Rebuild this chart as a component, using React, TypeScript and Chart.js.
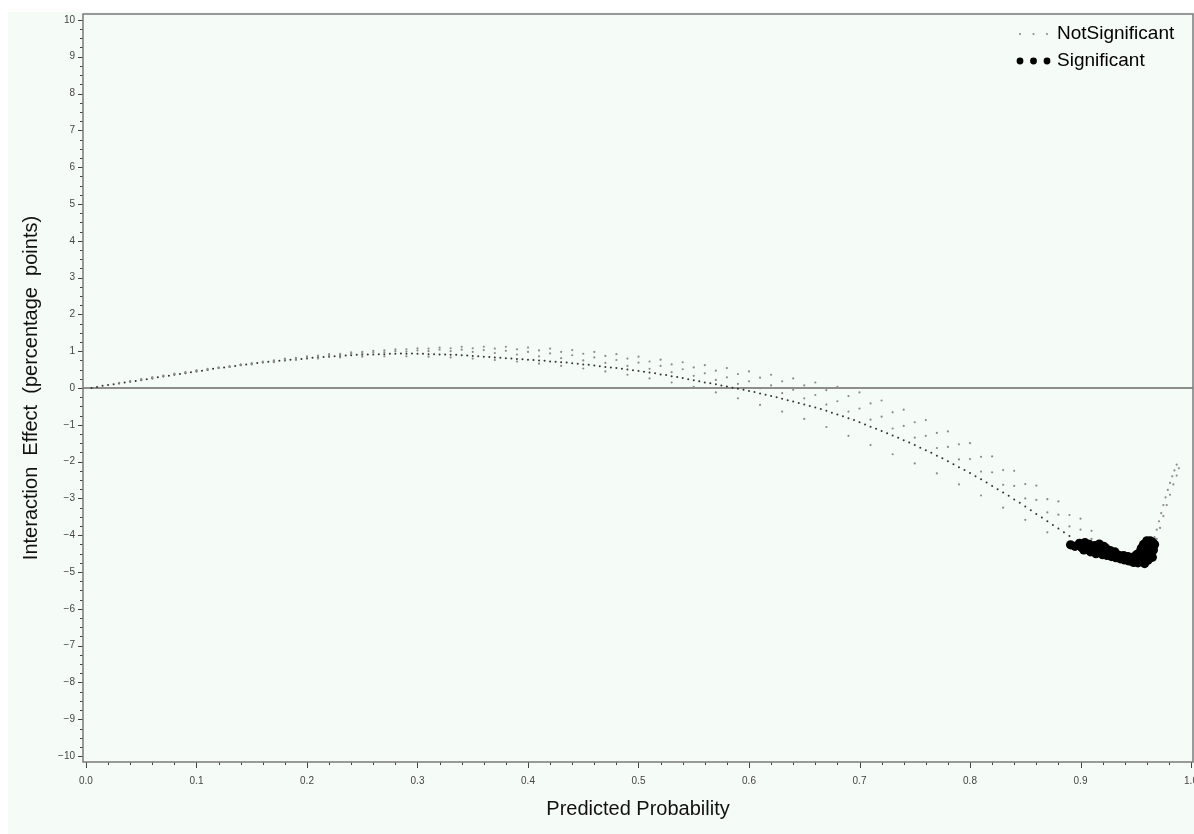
import React, { useEffect, useRef } from "react";
import { Chart, registerables } from "chart.js";

Chart.register(...registerables);

// ---------- axis settings ----------
const X_MIN = -0.0027;
const X_MAX = 1.0018;
const Y_MIN = -10.16;
const Y_MAX = 10.16;
const X_STEP = 0.1;
const Y_STEP = 1;
const X_MINOR = 0.02;
const Y_MINOR = 0.25;

const X_TITLE = "Predicted Probability";
const Y_TITLE = "Interaction  Effect  (percentage  points)";
const LEGEND_LABELS = ["NotSignificant", "Significant"];

// ---------- NotSignificant: main (densest) strand ----------
const MAIN_X = [
  0.005, 0.01, 0.02, 0.03, 0.04, 0.05, 0.06, 0.07, 0.08, 0.09, 0.1, 0.11, 0.12, 0.13, 0.14, 0.15,
  0.16, 0.17, 0.18, 0.19, 0.2, 0.21, 0.22, 0.23, 0.24, 0.25, 0.26, 0.27, 0.28, 0.29, 0.3, 0.31,
  0.32, 0.33, 0.34, 0.35, 0.36, 0.37, 0.38, 0.39, 0.4, 0.41, 0.42, 0.43, 0.44, 0.45, 0.46, 0.47,
  0.48, 0.49, 0.5, 0.51, 0.52, 0.53, 0.54, 0.55, 0.56, 0.57, 0.58, 0.59, 0.6, 0.61, 0.62, 0.63,
  0.64, 0.65, 0.66, 0.67, 0.68, 0.69, 0.7, 0.71, 0.72, 0.73, 0.74, 0.75, 0.76, 0.77, 0.78, 0.79,
  0.8, 0.81, 0.82, 0.83, 0.84, 0.85, 0.86, 0.87, 0.88, 0.89,
];
const MAIN_Y = [
  0.0, 0.03, 0.08, 0.12, 0.17, 0.21, 0.26, 0.31, 0.36, 0.4, 0.45, 0.49, 0.54, 0.58, 0.62, 0.66,
  0.69, 0.72, 0.75, 0.78, 0.8, 0.83, 0.85, 0.87, 0.89, 0.9, 0.91, 0.92, 0.93, 0.93, 0.93, 0.92,
  0.91, 0.9, 0.89, 0.87, 0.85, 0.83, 0.81, 0.79, 0.77, 0.75, 0.72, 0.7, 0.67, 0.64, 0.61, 0.57,
  0.54, 0.5, 0.46, 0.42, 0.37, 0.32, 0.27, 0.21, 0.15, 0.1, 0.04, -0.02, -0.08, -0.15, -0.22, -0.29,
  -0.37, -0.45, -0.53, -0.62, -0.72, -0.82, -0.93, -1.05, -1.17, -1.29, -1.42, -1.55, -1.69, -1.84, -1.99, -2.15,
  -2.31, -2.48, -2.66, -2.84, -3.03, -3.22, -3.42, -3.62, -3.82, -4.02,
];
const MAIN2_X = [
  0.015, 0.025, 0.035, 0.045, 0.055, 0.065, 0.075, 0.085, 0.095, 0.105, 0.115, 0.125, 0.135, 0.145,
  0.155, 0.165, 0.175, 0.185, 0.195, 0.205, 0.215, 0.225, 0.235, 0.245, 0.255, 0.265, 0.275, 0.285,
  0.295, 0.305, 0.315, 0.325, 0.335, 0.345, 0.355, 0.365, 0.375, 0.385, 0.395, 0.405, 0.415, 0.425,
  0.435, 0.445, 0.455, 0.465, 0.475, 0.485, 0.495, 0.505, 0.515, 0.525, 0.535, 0.545, 0.555, 0.565,
  0.575, 0.585, 0.595, 0.605, 0.615, 0.625, 0.635, 0.645, 0.655, 0.665, 0.675, 0.685, 0.695, 0.705,
  0.715, 0.725, 0.735, 0.745, 0.755, 0.765, 0.775, 0.785, 0.795, 0.805, 0.815, 0.825, 0.835, 0.845,
  0.855, 0.865, 0.875, 0.885,
];
const MAIN2_Y = [
  0.06, 0.1, 0.15, 0.19, 0.24, 0.29, 0.33, 0.38, 0.43, 0.47, 0.52, 0.56, 0.6, 0.64,
  0.68, 0.71, 0.74, 0.77, 0.79, 0.82, 0.84, 0.86, 0.88, 0.9, 0.91, 0.92, 0.93, 0.94,
  0.94, 0.93, 0.92, 0.91, 0.9, 0.88, 0.86, 0.84, 0.82, 0.8, 0.78, 0.76, 0.74, 0.71,
  0.69, 0.66, 0.63, 0.59, 0.56, 0.52, 0.48, 0.44, 0.4, 0.35, 0.3, 0.24, 0.18, 0.13,
  0.07, 0.01, -0.05, -0.11, -0.18, -0.25, -0.33, -0.41, -0.49, -0.57, -0.67, -0.77, -0.87, -0.99,
  -1.11, -1.23, -1.35, -1.48, -1.62, -1.76, -1.91, -2.07, -2.23, -2.4, -2.57, -2.75, -2.93, -3.12,
  -3.32, -3.52, -3.72, -3.92,
];

// ---------- NotSignificant: lower strand ----------
const LOW_X = [
  0.13, 0.15, 0.17, 0.19, 0.21, 0.23, 0.25, 0.27, 0.29, 0.31, 0.33, 0.35, 0.37, 0.39, 0.41, 0.43,
  0.45, 0.47, 0.49, 0.51, 0.53, 0.55, 0.57, 0.59, 0.61, 0.63, 0.65, 0.67, 0.69, 0.71, 0.73, 0.75,
  0.77, 0.79, 0.81, 0.83, 0.85, 0.87,
];
const LOW_Y = [
  0.57, 0.64, 0.7, 0.76, 0.8, 0.83, 0.85, 0.86, 0.86, 0.85, 0.83, 0.8, 0.76, 0.72, 0.66, 0.6,
  0.53, 0.45, 0.36, 0.26, 0.15, 0.03, -0.12, -0.28, -0.46, -0.64, -0.84, -1.06, -1.3, -1.55, -1.8, -2.05,
  -2.32, -2.62, -2.92, -3.25, -3.58, -3.92,
];

// ---------- NotSignificant: upper strands ----------
const UP1_X = [
  0.03, 0.05, 0.07, 0.09, 0.11, 0.13, 0.15, 0.17, 0.19, 0.21, 0.23, 0.25, 0.27, 0.29, 0.31, 0.33,
  0.35, 0.37, 0.39, 0.41, 0.43, 0.45, 0.47, 0.49, 0.51, 0.53, 0.55, 0.57, 0.59, 0.61, 0.63, 0.65,
  0.67, 0.69, 0.71, 0.73, 0.75, 0.77, 0.79, 0.81, 0.83, 0.85, 0.87, 0.89, 0.91,
];
const UP1_Y = [
  0.14, 0.23, 0.33, 0.42, 0.5, 0.58, 0.66, 0.73, 0.79, 0.85, 0.9, 0.94, 0.97, 0.99, 1.0, 1.0,
  0.98, 0.95, 0.91, 0.86, 0.81, 0.75, 0.68, 0.6, 0.52, 0.43, 0.33, 0.22, 0.11, -0.01, -0.14, -0.28,
  -0.45, -0.64, -0.86, -1.1, -1.35, -1.63, -1.94, -2.27, -2.63, -3.0, -3.38, -3.76, -4.1,
];
const UP2_X = [
  0.04, 0.06, 0.08, 0.1, 0.12, 0.14, 0.16, 0.18, 0.2, 0.22, 0.24, 0.26, 0.28, 0.3, 0.32, 0.34,
  0.36, 0.38, 0.4, 0.42, 0.44, 0.46, 0.48, 0.5, 0.52, 0.54, 0.56, 0.58, 0.6, 0.62, 0.64, 0.66,
  0.68, 0.7, 0.72, 0.74, 0.76, 0.78, 0.8, 0.82, 0.84, 0.86, 0.88, 0.9,
];
const UP2_Y = [
  0.19, 0.28, 0.38, 0.47, 0.54, 0.63, 0.7, 0.77, 0.83, 0.88, 0.93, 0.97, 1.0, 1.02, 1.04, 1.04,
  1.03, 1.01, 0.98, 0.94, 0.89, 0.83, 0.76, 0.69, 0.6, 0.51, 0.4, 0.29, 0.18, 0.07, -0.05, -0.19,
  -0.36, -0.56, -0.78, -1.03, -1.3, -1.6, -1.93, -2.29, -2.66, -3.04, -3.44, -3.85,
];
const UP3_X = [
  0.05, 0.07, 0.09, 0.11, 0.13, 0.15, 0.17, 0.19, 0.21, 0.23, 0.25, 0.27, 0.29, 0.31, 0.33, 0.35,
  0.37, 0.39, 0.41, 0.43, 0.45, 0.47, 0.49, 0.51, 0.53, 0.55, 0.57, 0.59, 0.61, 0.63, 0.65, 0.67,
  0.69, 0.71, 0.73, 0.75, 0.77, 0.79, 0.81, 0.83, 0.85, 0.87, 0.89, 0.91,
];
const UP3_Y = [
  0.24, 0.34, 0.43, 0.52, 0.59, 0.67, 0.75, 0.82, 0.88, 0.93, 0.98, 1.02, 1.05, 1.07, 1.08, 1.08,
  1.07, 1.05, 1.02, 0.98, 0.93, 0.87, 0.8, 0.72, 0.64, 0.56, 0.47, 0.38, 0.28, 0.18, 0.07, -0.06,
  -0.22, -0.42, -0.66, -0.93, -1.22, -1.53, -1.87, -2.23, -2.61, -3.02, -3.45, -3.88,
];
const UP4_X = [
  0.06, 0.08, 0.1, 0.12, 0.14, 0.16, 0.18, 0.2, 0.22, 0.24, 0.26, 0.28, 0.3, 0.32, 0.34, 0.36,
  0.38, 0.4, 0.42, 0.44, 0.46, 0.48, 0.5, 0.52, 0.54, 0.56, 0.58, 0.6, 0.62, 0.64, 0.66, 0.68,
  0.7, 0.72, 0.74, 0.76, 0.78, 0.8, 0.82, 0.84, 0.86, 0.88, 0.9,
];
const UP4_Y = [
  0.29, 0.39, 0.48, 0.56, 0.64, 0.72, 0.8, 0.86, 0.92, 0.97, 1.01, 1.05, 1.08, 1.1, 1.12, 1.12,
  1.12, 1.1, 1.07, 1.03, 0.98, 0.92, 0.85, 0.77, 0.7, 0.62, 0.54, 0.45, 0.36, 0.26, 0.15, 0.03,
  -0.12, -0.34, -0.59, -0.87, -1.18, -1.5, -1.86, -2.25, -2.65, -3.08, -3.55,
];

// ---------- NotSignificant: steep rise after the minimum ----------
const TIP1_X = [0.967, 0.969, 0.971, 0.973, 0.975, 0.977, 0.979, 0.981, 0.983, 0.985, 0.987];
const TIP1_Y = [-4.05, -3.85, -3.62, -3.4, -3.18, -2.97, -2.77, -2.58, -2.4, -2.24, -2.08];
const TIP2_X = [0.969, 0.972, 0.975, 0.978, 0.981, 0.984, 0.987, 0.989];
const TIP2_Y = [-4.1, -3.8, -3.48, -3.18, -2.9, -2.62, -2.38, -2.18];

// ---------- Significant ----------
const SIG_X = [
  0.891, 0.895, 0.899, 0.901, 0.903, 0.904, 0.905, 0.907, 0.908, 0.909, 0.911, 0.912, 0.913, 0.914,
  0.916, 0.917, 0.918, 0.919, 0.92, 0.921, 0.922, 0.923, 0.924, 0.925, 0.926, 0.927, 0.928, 0.929,
  0.93, 0.931, 0.932, 0.933, 0.934, 0.935, 0.936, 0.937, 0.938, 0.939, 0.94, 0.941, 0.942, 0.943,
  0.944, 0.945, 0.946, 0.947, 0.948, 0.949, 0.95, 0.951, 0.952, 0.953, 0.954, 0.955, 0.955, 0.956,
  0.957, 0.957, 0.958, 0.958, 0.959, 0.96, 0.96, 0.961, 0.961, 0.962, 0.962, 0.963, 0.963, 0.964,
  0.964, 0.965, 0.965, 0.966, 0.966, 0.967,
];
const SIG_Y = [
  -4.26, -4.3, -4.22, -4.33, -4.4, -4.2, -4.28, -4.37, -4.25, -4.45, -4.33, -4.42, -4.28, -4.5,
  -4.38, -4.24, -4.47, -4.4, -4.53, -4.3, -4.43, -4.35, -4.55, -4.45, -4.5, -4.42, -4.58, -4.5,
  -4.53, -4.45, -4.61, -4.52, -4.56, -4.55, -4.64, -4.57, -4.6, -4.55, -4.67, -4.6, -4.62, -4.58,
  -4.7, -4.62, -4.65, -4.6, -4.74, -4.58, -4.68, -4.52, -4.75, -4.62, -4.45, -4.7, -4.35, -4.55,
  -4.38, -4.25, -4.77, -4.62, -4.3, -4.5, -4.15, -4.68, -4.35, -4.22, -4.42, -4.58, -4.15, -4.3,
  -4.5, -4.18, -4.6, -4.4, -4.3, -4.25,
];

const toPoints = (xs: number[], ys: number[]) => xs.map((x, i) => ({ x, y: ys[i] }));

const FONT = '"Liberation Sans", Arial, Helvetica, sans-serif';
const BG = "#F5FBF7";

const minorTicksPlugin = {
  id: "minorTicks",
  afterDraw(chart: any) {
    const { ctx, chartArea, scales } = chart;
    const xs = scales.x;
    const ys = scales.y;
    ctx.save();
    ctx.strokeStyle = "#444";
    ctx.lineWidth = 1;
    const yStart = Math.ceil(Y_MIN / Y_MINOR);
    const yEnd = Math.floor(Y_MAX / Y_MINOR);
    for (let i = yStart; i <= yEnd; i++) {
      const v = i * Y_MINOR;
      const py = Math.round(ys.getPixelForValue(v)) + 0.5;
      const len = i % 4 === 0 ? 5 : 3;
      ctx.beginPath();
      ctx.moveTo(chartArea.left - len, py);
      ctx.lineTo(chartArea.left, py);
      ctx.stroke();
    }
    const xStart = Math.ceil(X_MIN / X_MINOR);
    const xEnd = Math.floor(X_MAX / X_MINOR);
    for (let i = xStart; i <= xEnd; i++) {
      const v = i * X_MINOR;
      const px = Math.round(xs.getPixelForValue(v)) + 0.5;
      const len = i % 5 === 0 ? 6 : 3;
      ctx.beginPath();
      ctx.moveTo(px, chartArea.bottom);
      ctx.lineTo(px, chartArea.bottom + len);
      ctx.stroke();
    }
    ctx.strokeStyle = "#7a7a7a";
    ctx.lineWidth = 1.5;
    ctx.strokeRect(chartArea.left, chartArea.top, chartArea.right - chartArea.left, chartArea.bottom - chartArea.top);
    ctx.restore();
  },
};

const legendPlugin = {
  id: "sasLegend",
  afterDraw(chart: any) {
    const { ctx, chartArea } = chart;
    const textX = chartArea.right - 136;
    const rows = [chartArea.top + 20, chartArea.top + 47];
    ctx.save();
    ctx.font = `19px ${FONT}`;
    ctx.textBaseline = "middle";
    ctx.textAlign = "left";
    LEGEND_LABELS.forEach((label, i) => {
      const y = rows[i];
      for (let k = 0; k < 3; k++) {
        const dx = textX - 37 + k * 13.5;
        ctx.beginPath();
        if (i === 0) {
          ctx.fillStyle = "#8c8c8c";
          ctx.arc(dx, y, 1.1, 0, Math.PI * 2);
        } else {
          ctx.fillStyle = "#000";
          ctx.arc(dx, y, 3.4, 0, Math.PI * 2);
        }
        ctx.fill();
      }
      ctx.fillStyle = "#000";
      ctx.fillText(label, textX, y);
    });
    ctx.restore();
  },
};

export default function App() {
  const canvasRef = useRef<HTMLCanvasElement | null>(null);

  useEffect(() => {
    if (!canvasRef.current) return;
    const dotStyle = (r: number) => ({
      pointRadius: r,
      pointHoverRadius: r,
      pointBorderWidth: 0,
      showLine: false,
    });
    const chart = new Chart(canvasRef.current, {
      type: "scatter",
      data: {
        datasets: [
          {
            label: "NotSignificant",
            data: [
              ...toPoints(UP1_X, UP1_Y),
              ...toPoints(UP2_X, UP2_Y),
              ...toPoints(UP3_X, UP3_Y),
              ...toPoints(UP4_X, UP4_Y),
              ...toPoints(LOW_X, LOW_Y),
              ...toPoints(TIP1_X, TIP1_Y),
              ...toPoints(TIP2_X, TIP2_Y),
            ],
            backgroundColor: "#8c8c8c",
            borderColor: "#8c8c8c",
            ...dotStyle(1.1),
          },
          {
            label: "NotSignificant",
            data: [...toPoints(MAIN_X, MAIN_Y), ...toPoints(MAIN2_X, MAIN2_Y)],
            backgroundColor: "#333",
            borderColor: "#333",
            ...dotStyle(1.0),
          },
          {
            label: "Significant",
            data: toPoints(SIG_X, SIG_Y),
            backgroundColor: "#000",
            borderColor: "#000",
            ...dotStyle(4.6),
          },
        ],
      },
      options: {
        animation: false,
        responsive: false,
        devicePixelRatio: 1,
        events: [],
        layout: { padding: { top: 13, right: 37, left: 0, bottom: 0 } },
        plugins: {
          legend: { display: false },
          tooltip: { enabled: false },
        },
        scales: {
          x: {
            type: "linear",
            min: X_MIN,
            max: X_MAX,
            afterFit: (s: any) => {
              s.height = 72;
            },
            border: { display: false },
            grid: { display: false, drawTicks: false },
            ticks: {
              stepSize: X_STEP,
              includeBounds: false,
              autoSkip: false,
              maxRotation: 0,
              padding: 13,
              color: "#444",
              font: { family: FONT, size: 10 },
              callback: (v: any) => Number(v).toFixed(1),
            },
            title: {
              display: true,
              text: X_TITLE,
              color: "#111",
              font: { family: FONT, size: 20 },
              padding: { top: 0, bottom: 13 },
            },
          },
          y: {
            type: "linear",
            min: Y_MIN,
            max: Y_MAX,
            afterFit: (s: any) => {
              s.width = 83;
            },
            border: { display: false },
            grid: {
              drawTicks: false,
              color: (c: any) => (c.tick && c.tick.value === 0 ? "#8e8e8e" : "rgba(0,0,0,0)"),
              lineWidth: (c: any) => (c.tick && c.tick.value === 0 ? 2 : 0),
            },
            ticks: {
              stepSize: Y_STEP,
              includeBounds: false,
              autoSkip: false,
              padding: 8,
              color: "#444",
              font: { family: FONT, size: 10 },
              callback: (v: any) => (Number(v) < 0 ? "\u2212" + Math.abs(Number(v)) : String(v)),
            },
            title: {
              display: true,
              text: Y_TITLE,
              color: "#111",
              font: { family: FONT, size: 20 },
              padding: { top: 19, bottom: 0 },
            },
          },
        },
      },
      plugins: [minorTicksPlugin, legendPlugin],
    } as any);
    return () => chart.destroy();
  }, []);

  return (
    <div
      style={{
        position: "fixed",
        left: 0,
        top: 0,
        width: 1194,
        height: 834,
        overflow: "hidden",
        background: "#fff",
      }}
    >
      <div style={{ position: "absolute", left: 8, top: 12, right: 0, bottom: 0, background: BG }} />
      <canvas
        ref={canvasRef}
        width={1230}
        height={834}
        style={{ position: "absolute", left: 0, top: 0, width: 1230, height: 834 }}
      />
    </div>
  );
}
